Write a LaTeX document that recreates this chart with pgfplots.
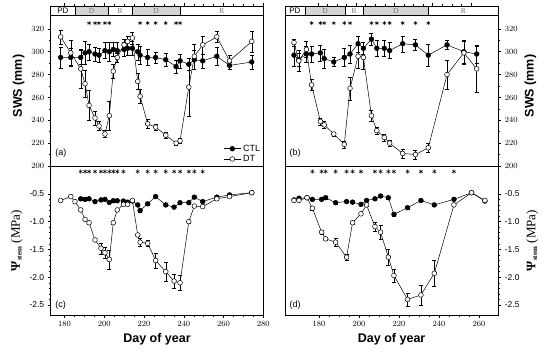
\documentclass[border=0pt]{standalone}
\usepackage{fontspec}
\setmainfont{Liberation Sans}
\newfontfamily\seriffont{Liberation Serif}
\usepackage{pgfplots}
\pgfplotsset{compat=1.18}

\tikzset{
  plab/.style={font=\fontsize{9}{10}\selectfont, anchor=west},
  strD/.style={draw=black, line width=0.4pt, fill=black!17},
  strR/.style={draw=black, line width=0.4pt, fill=white},
  strT/.style={font=\seriffont\fontsize{7.5}{8}\selectfont, text=black!55},
  strP/.style={font=\fontsize{8}{9}\selectfont},
}
\pgfplotsset{
  base/.style={scale only axis, anchor=south west,
    axis line style={line width=0.6pt},
    tick style={black, line width=0.5pt},
    tick align=outside, major tick length=3pt, minor tick length=1.7pt,
    ticklabel style={font=\fontsize{8.5}{10}\selectfont},
    label style={font=\fontsize{12.5}{14}\selectfont\bfseries},
  },
  top/.style={base, height=160pt, ymin=200, ymax=340,
    ytick={200,220,...,320}, minor y tick num=1, xtick pos=right, xticklabels={}},
  bot/.style={base, height=149pt, ymin=-2.68, ymax=0,
    ytick={-2.5,-2,-1.5,-1,-0.5}, yticklabels={-2.5,-2.0,-1.5,-1.0,-0.5},
    minor y tick num=4, xtick pos=left, xlabel={Day of year}},
  ctl/.style={black, line width=0.5pt, mark=*, mark size=2.4pt,
    mark options={fill=black, solid},
    error bars/.cd, y dir=both, y explicit,
    error bar style={line width=0.4pt},
    error mark options={rotate=90, mark size=2pt, line width=0.4pt}},
  dt/.style={black, line width=0.5pt, mark=*, mark size=2.4pt,
    mark options={fill=white, solid},
    error bars/.cd, y dir=both, y explicit,
    error bar style={line width=0.4pt},
    error mark options={rotate=90, mark size=2pt, line width=0.4pt}},
  star/.style={only marks, mark=asterisk, mark size=2.1pt, black, line width=0.5pt, forget plot},
}

% ---------- data ----------
\pgfplotstableread{
x y e
178 295 9
183.1 295 8
188.1 295 6
190.3 299 10
192.3 300 7
195.3 298 6
197.3 297 6
200.3 301 7
202.5 300 8
204.5 302 6
206.5 301 7
209.9 302 6
211.7 303 6
214.1 303 6
216.8 300 7
218 297 8
221.8 295 7
225.8 295 5
230.9 293 6
236.1 287 6
238.1 292 6
242.5 289 5
245.3 293 8
249.5 292 6
256.6 296 8
263 288 3
274.2 291 6
}\actl
\pgfplotstableread{
x y e
178 313 6
183.1 299 11
188.1 285 17
190.3 272 12
192.3 253 13
195.3 242 6
197.3 235 4
200.3 228 3
202.5 244 13
204.5 283 6
206.5 295 4
209.9 306 5
211.7 309 5
214.1 312 5
216.8 274 7
218 261 6
221.8 237 4
225.8 234 3
230.9 227 3
236.1 220 2
238.1 222 2
242.5 269 25
245.3 296 11
249.5 306 8
256.6 313 5
263 292 5
274.2 309 9
}\adt
\pgfplotstableread{
x y e
188.1 -0.59 0.02
190.3 -0.60 0.02
192.3 -0.59 0.02
195.3 -0.64 0.02
198.3 -0.61 0.02
200.3 -0.60 0.02
202.5 -0.655 0.02
204.5 -0.625 0.02
206.5 -0.625 0.02
209.6 -0.63 0.02
211.7 -0.65 0.02
214.1 -0.63 0.02
216.8 -0.70 0.02
218 -0.80 0.03
221.8 -0.68 0.02
225.8 -0.55 0.02
230.9 -0.70 0.02
235.1 -0.74 0.02
238.1 -0.66 0.02
242.5 -0.66 0.02
245.3 -0.56 0.02
249.5 -0.64 0.02
256.6 -0.56 0.02
263 -0.52 0.02
274.2 -0.48 0.02
}\cctl
\pgfplotstableread{
x y e
178 -0.62 0.02
183.1 -0.55 0.02
185.2 -0.64 0.02
188.1 -0.79 0.02
190.3 -0.96 0.02
192.3 -1.02 0.02
195.3 -1.33 0.03
198.3 -1.48 0.10
200.3 -1.56 0.10
202.5 -1.68 0.17
204.5 -1.02 0.02
206.5 -0.79 0.02
209.6 -0.69 0.02
211.7 -0.69 0.02
214.1 -0.62 0.02
216.8 -1.24 0.03
218 -1.37 0.07
221.8 -1.39 0.06
225.8 -1.70 0.14
230.9 -1.90 0.17
235.1 -2.07 0.13
238.1 -2.10 0.14
242.5 -1.00 0.02
245.3 -0.72 0.02
249.5 -0.73 0.02
256.6 -0.59 0.02
263 -0.55 0.02
274.2 -0.48 0.02
}\cdt
\pgfplotstableread{
x y e
167.5 297 10
170 293 6
174 298 7
176.7 298 7
181.3 299 7
183.3 294 8
188.3 291 4
193.8 295 8
196.8 298 8
201 307 7
203.8 303 5
208 311 5
210.8 303 7
214.7 303 7
217.5 301 7
224.3 307 7
231 306 5
237.7 297 10
247.5 306 4
256.3 300 10
263 298 8
}\bctl
\pgfplotstableread{
x y e
167.5 308 3
170 292 9
174 302 7
176.7 271 5
181.3 239 3
183.3 236 3
188.3 228 2
193.8 219 3
196.8 268 10
201 296 10
203.8 295 10
208 244 5
210.8 231 3
214.7 225 3
217.5 220 3
224.3 211 4
231 210 4
237.7 216 4
247.5 280 13
256.3 299 10
263 285 20
}\bdt
\pgfplotstableread{
x y e
167.5 -0.61 0.02
170 -0.58 0.02
174 -0.57 0.02
176.7 -0.60 0.02
181.3 -0.60 0.02
183.3 -0.57 0.02
188.3 -0.66 0.02
193.8 -0.64 0.02
196.8 -0.65 0.02
201 -0.69 0.02
203.8 -0.62 0.02
208 -0.59 0.02
210.8 -0.54 0.02
214.7 -0.57 0.02
217.5 -0.87 0.03
224.3 -0.75 0.02
231 -0.62 0.02
237.7 -0.70 0.02
247.5 -0.60 0.02
256.3 -0.48 0.02
263 -0.63 0.02
}\dctl
\pgfplotstableread{
x y e
167.5 -0.62 0.02
170 -0.62 0.02
174 -0.57 0.02
176.7 -0.76 0.03
181.3 -1.19 0.03
183.3 -1.31 0.03
188.3 -1.37 0.08
193.8 -1.64 0.05
196.8 -1.02 0.03
201 -0.86 0.03
203.8 -0.70 0.03
208 -1.09 0.08
210.8 -1.19 0.12
214.7 -1.64 0.15
217.5 -1.97 0.12
224.3 -2.40 0.12
231 -2.32 0.18
237.7 -1.93 0.23
247.5 -0.70 0.03
256.3 -0.48 0.02
263 -0.62 0.03
}\ddt

\begin{document}
\begin{tikzpicture}
\useasboundingbox (0,0) rectangle (550pt,357pt);

% ---------------- (a) ----------------
\begin{axis}[top, at={(50.7pt,191pt)}, width=212.6pt, xmin=173, xmax=280,
  xtick={180,200,...,280}, minor x tick num=3, ytick pos=left,
  ylabel={SWS (mm)},
  legend style={at={(rel axis cs:1,0)}, anchor=south east, draw=none, fill=none,
    inner sep=1pt, row sep=-1.5pt, font=\fontsize{9}{10}\selectfont},
  legend cell align=left]
\draw[strR] (173,332) rectangle (185.2,340);
\draw[strD] (185.2,332) rectangle (202,340);
\draw[strR] (202,332) rectangle (213.8,340);
\draw[strD] (213.8,332) rectangle (238.4,340);
\draw[strR] (238.4,332) rectangle (280,340);
\node[strP] at (179.1,336) {PD};
\node[strT] at (193.6,336) {D};
\node[strT] at (207.9,336) {R};
\node[strT] at (226.1,336) {D};
\node[strT] at (259.2,336) {R};
\addplot[ctl] table[x=x,y=y,y error=e] {\actl};
\addlegendentry{CTL}
\addplot[dt] table[x=x,y=y,y error=e] {\adt};
\addlegendentry{DT}
\addplot[star] coordinates {(192.3,325) (195.3,325) (197.3,325) (200.3,325) (202.5,325)
  (218,325) (221.8,325) (225.8,325) (230.9,325) (236.1,325) (238.1,325)};
\node[plab] at (rel axis cs:0.005,0.08) {(a)};
\end{axis}

% ---------------- (c) ----------------
\begin{axis}[bot, at={(50.7pt,42pt)}, width=212.6pt, xmin=173, xmax=280,
  xtick={180,200,...,280}, minor x tick num=3, ytick pos=left,
  ylabel={{\seriffont\fontsize{13}{14}\selectfont\textbf{Ψ}\textsubscript{\fontsize{7}{8}\selectfont stem}\mdseries\ (MPa)}}]
\addplot[ctl] table[x=x,y=y,y error=e] {\cctl};
\addplot[dt] table[x=x,y=y,y error=e] {\cdt};
\addplot[star] coordinates {(188.1,-0.1) (190.3,-0.1) (192.3,-0.1) (195.3,-0.1) (198.3,-0.1)
  (200.3,-0.1) (202.5,-0.1) (204.5,-0.1) (206.5,-0.1) (209.6,-0.1)
  (216.8,-0.1) (221.8,-0.1) (225.8,-0.1) (230.9,-0.1) (235.1,-0.1) (238.1,-0.1)
  (242.5,-0.1) (245.3,-0.1) (249.5,-0.1)};
\node[plab] at (rel axis cs:0.005,0.064) {(c)};
\end{axis}

% ---------------- (b) ----------------
\begin{axis}[top, at={(285pt,191pt)}, width=213.3pt, xmin=162.8, xmax=274.3,
  xtick={180,200,...,260}, minor x tick num=3,
  ytick pos=right, yticklabel pos=right, ylabel={SWS (mm)}]
\draw[strR] (162.8,332) rectangle (173.2,340);
\draw[strD] (173.2,332) rectangle (194.2,340);
\draw[strR] (194.2,332) rectangle (203.7,340);
\draw[strD] (203.7,332) rectangle (237.7,340);
\draw[strR] (237.7,332) rectangle (274.3,340);
\node[strP] at (168,336) {PD};
\node[strT] at (183.7,336) {D};
\node[strT] at (198.95,336) {R};
\node[strT] at (220.7,336) {D};
\node[strT] at (256,336) {R};
\addplot[ctl] table[x=x,y=y,y error=e] {\bctl};
\addplot[dt] table[x=x,y=y,y error=e] {\bdt};
\addplot[star] coordinates {(176.7,325) (181.3,325) (183.3,325) (188.3,325) (193.8,325)
  (196.8,325) (208,325) (210.8,325) (214.7,325) (217.5,325) (224.3,325) (231,325)
  (237.7,325)};
\node[plab] at (rel axis cs:0.005,0.08) {(b)};
\end{axis}

% ---------------- (d) ----------------
\begin{axis}[bot, at={(285pt,42pt)}, width=213.3pt, xmin=163, xmax=269.7,
  xtick={180,200,...,260}, minor x tick num=3,
  ytick pos=right, yticklabel pos=right,
  ylabel={{\seriffont\fontsize{13}{14}\selectfont\textbf{Ψ}\textsubscript{\fontsize{7}{8}\selectfont stem}\mdseries\ (MPa)}}]
\addplot[ctl] table[x=x,y=y,y error=e] {\dctl};
\addplot[dt] table[x=x,y=y,y error=e] {\ddt};
\addplot[star] coordinates {(176.7,-0.1) (181.3,-0.1) (183.3,-0.1) (188.3,-0.1) (193.8,-0.1)
  (196.8,-0.1) (201,-0.1) (208,-0.1) (210.8,-0.1) (214.7,-0.1) (217.5,-0.1) (224.3,-0.1)
  (231,-0.1) (237.7,-0.1) (247.5,-0.1)};
\node[plab] at (rel axis cs:0.005,0.064) {(d)};
\end{axis}
\end{tikzpicture}
\end{document}
